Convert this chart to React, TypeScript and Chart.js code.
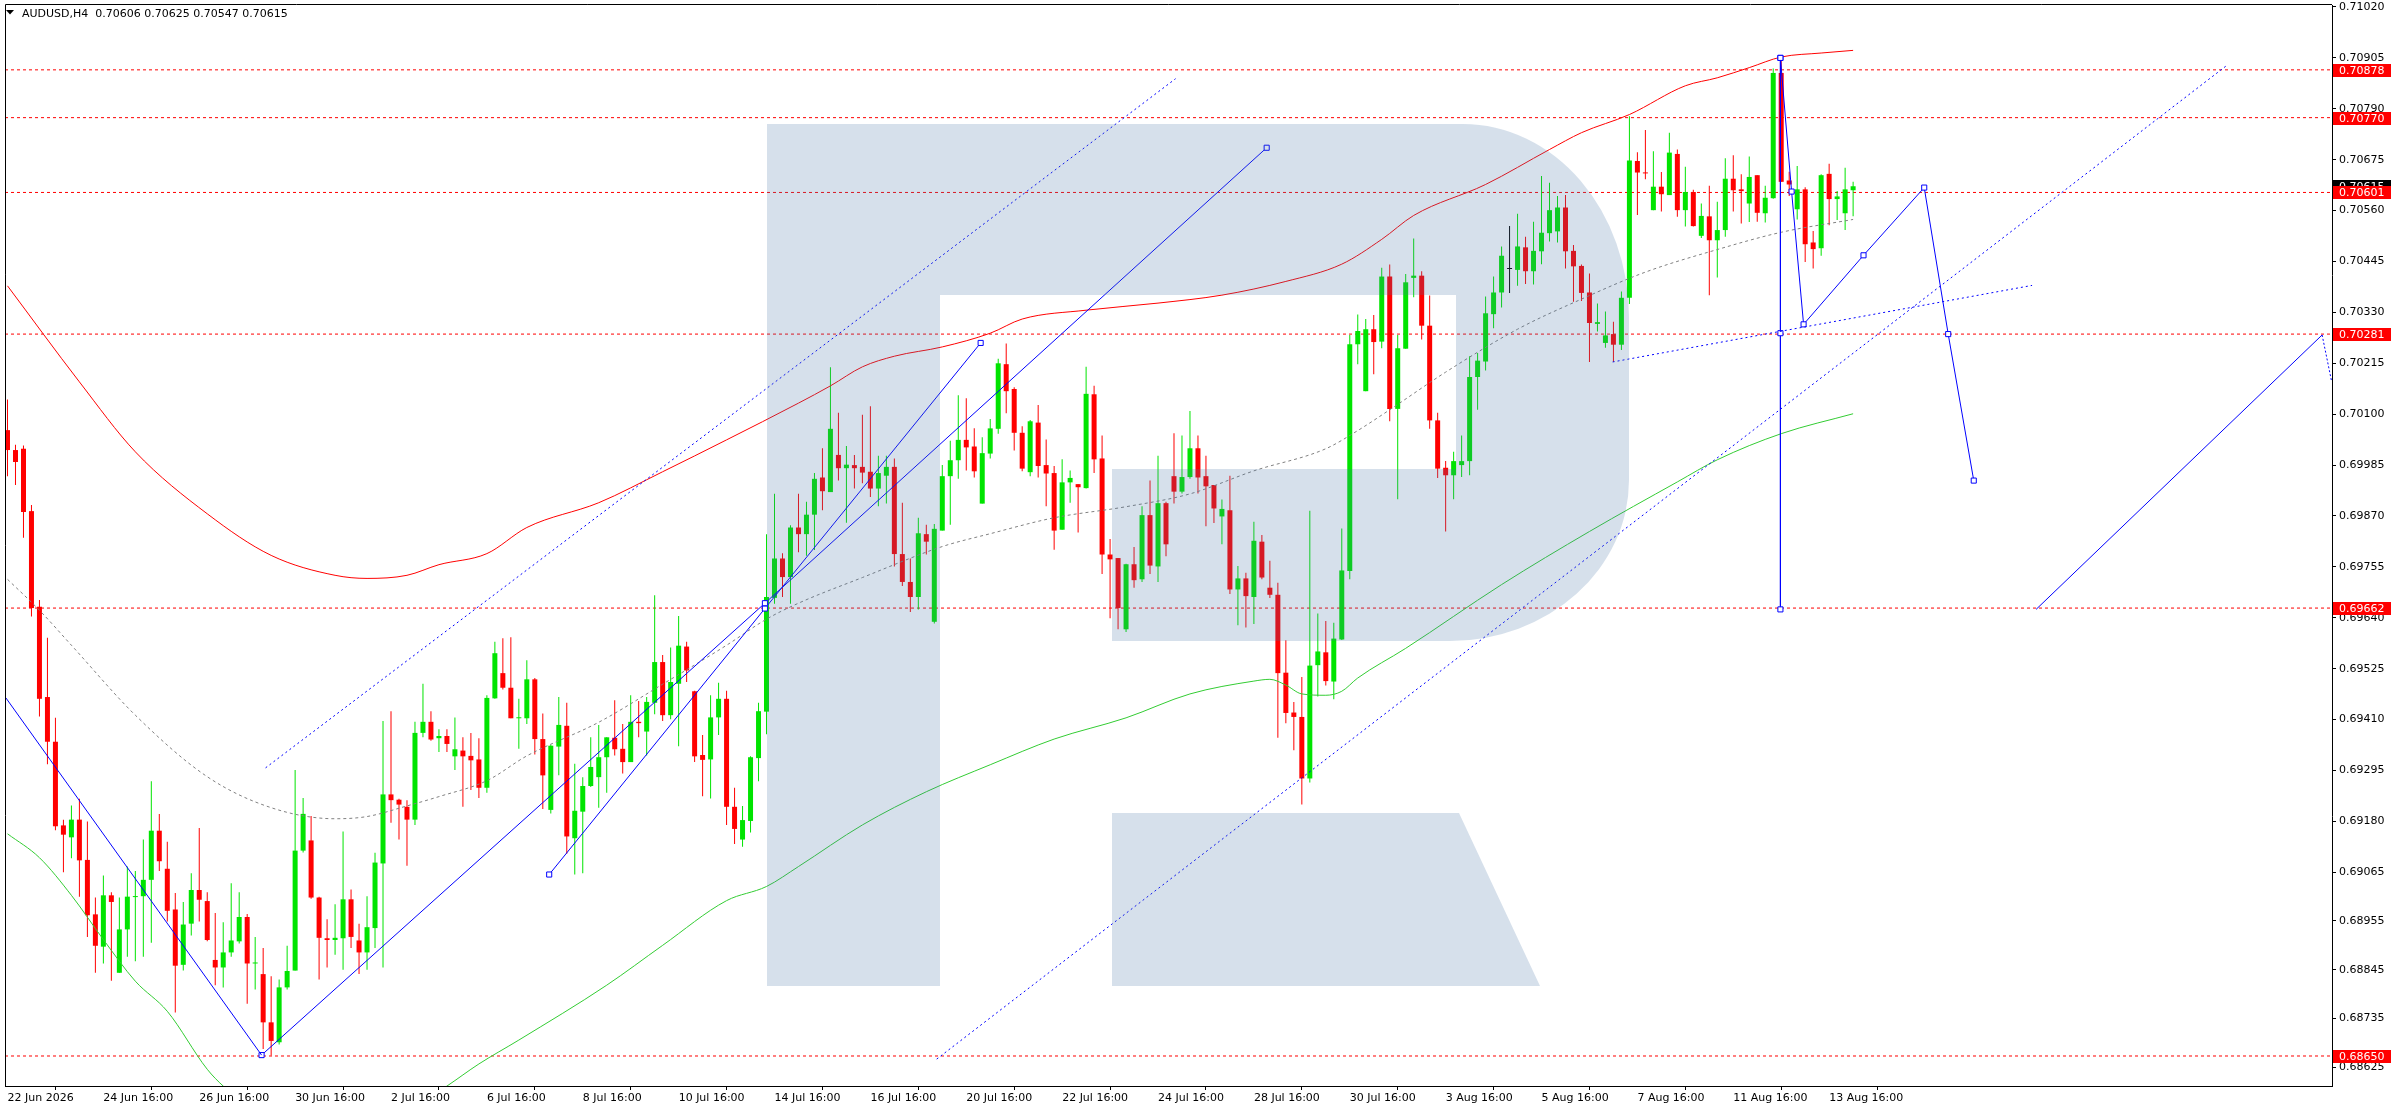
import React, { useEffect, useRef } from 'react';
import { Chart, registerables } from 'chart.js';

Chart.register(...registerables);

// ---------- data ----------
const symbolName = 'AUDUSD,H4';
const dateLabels = ['22 Jun 2026', '24 Jun 16:00', '26 Jun 16:00', '30 Jun 16:00', '2 Jul 16:00', '6 Jul 16:00', '8 Jul 16:00', '10 Jul 16:00', '14 Jul 16:00', '16 Jul 16:00', '20 Jul 16:00', '22 Jul 16:00', '24 Jul 16:00', '28 Jul 16:00', '30 Jul 16:00', '3 Aug 16:00', '5 Aug 16:00', '7 Aug 16:00', '11 Aug 16:00', '13 Aug 16:00'];
const labelEveryBars = 12;

const opens = [
  0.70064, 0.70019, 0.70022, 0.69881, 0.69665, 0.69461, 0.69360, 0.69171, 0.69144, 0.69184,
  0.69093, 0.68970, 0.68897, 0.69013, 0.68838, 0.68936, 0.69009, 0.69011, 0.69048, 0.69159,
  0.69073, 0.68981, 0.68856, 0.68949, 0.69025, 0.69000, 0.68867, 0.68850, 0.68884, 0.68909,
  0.68964, 0.68859, 0.68835, 0.68726, 0.68681, 0.68805, 0.68843, 0.69114, 0.69137, 0.69008,
  0.68916, 0.68912, 0.68916, 0.69004, 0.68911, 0.68884, 0.68939, 0.69085, 0.69241, 0.69229,
  0.69213, 0.69184, 0.69380, 0.69405, 0.69368, 0.69373, 0.69327, 0.69340, 0.69328, 0.69320,
  0.69256, 0.69458, 0.69515, 0.69482, 0.69413, 0.69413, 0.69501, 0.69366, 0.69206, 0.69349,
  0.69396, 0.69142, 0.69202, 0.69260, 0.69280, 0.69325, 0.69369, 0.69344, 0.69314, 0.69405,
  0.69383, 0.69448, 0.69540, 0.69420, 0.69491, 0.69575, 0.69474, 0.69330, 0.69320, 0.69415,
  0.69457, 0.69213, 0.69139, 0.69181, 0.69323, 0.69428, 0.69685, 0.69774, 0.69732, 0.69844,
  0.69829, 0.69873, 0.69957, 0.69924, 0.70008, 0.69978, 0.69985, 0.69981, 0.69970, 0.69932,
  0.69961, 0.69981, 0.69784, 0.69721, 0.69687, 0.69829, 0.69631, 0.69837, 0.69960, 0.69996,
  0.70042, 0.70027, 0.69898, 0.70011, 0.70067, 0.70213, 0.70157, 0.70058, 0.69969, 0.70081,
  0.69985, 0.69967, 0.69839, 0.69946, 0.69942, 0.69933, 0.70145, 0.70000, 0.69783, 0.69775,
  0.69614, 0.69761, 0.69727, 0.69872, 0.69756, 0.69899, 0.69960, 0.69925, 0.69958, 0.70023,
  0.69960, 0.69940, 0.69869, 0.69883, 0.69704, 0.69729, 0.69687, 0.69812, 0.69708, 0.69692,
  0.69516, 0.69426, 0.69416, 0.69277, 0.69533, 0.69562, 0.69496, 0.69591, 0.69746, 0.70258,
  0.70152, 0.70292, 0.70264, 0.70411, 0.70112, 0.70248, 0.70408, 0.70413, 0.70300, 0.70086,
  0.69979, 0.69962, 0.69985, 0.69994, 0.70184, 0.70219, 0.70326, 0.70375, 0.70428, 0.70426,
  0.70477, 0.70423, 0.70468, 0.70509, 0.70513, 0.70567, 0.70469, 0.70435, 0.70375, 0.70304,
  0.70261, 0.70281, 0.70257, 0.70363, 0.70672, 0.70646, 0.70561, 0.70614, 0.70595, 0.70688,
  0.70561, 0.70602, 0.70503, 0.70547, 0.70493, 0.70516, 0.70632, 0.70608, 0.70576, 0.70640,
  0.70554, 0.70588, 0.70871, 0.70628, 0.70563, 0.70608, 0.70488, 0.70475, 0.70643, 0.70586,
  0.70554, 0.70606,
];
const highs = [
  0.70133, 0.70031, 0.70029, 0.69895, 0.69680, 0.69595, 0.69414, 0.69184, 0.69216, 0.69231,
  0.69180, 0.69008, 0.69058, 0.69020, 0.69008, 0.69078, 0.69068, 0.69139, 0.69271, 0.69197,
  0.69134, 0.69018, 0.68998, 0.69063, 0.69165, 0.69020, 0.68973, 0.68952, 0.69040, 0.69020,
  0.68971, 0.68919, 0.68894, 0.68830, 0.68823, 0.68899, 0.69296, 0.69233, 0.69192, 0.69010,
  0.68959, 0.68993, 0.69157, 0.69026, 0.68949, 0.69011, 0.69109, 0.69407, 0.69429, 0.69231,
  0.69228, 0.69405, 0.69491, 0.69429, 0.69388, 0.69388, 0.69415, 0.69370, 0.69380, 0.69368,
  0.69465, 0.69586, 0.69594, 0.69596, 0.69457, 0.69544, 0.69504, 0.69424, 0.69353, 0.69461,
  0.69448, 0.69310, 0.69280, 0.69370, 0.69398, 0.69370, 0.69454, 0.69400, 0.69465, 0.69452,
  0.69461, 0.69691, 0.69556, 0.69573, 0.69644, 0.69586, 0.69475, 0.69375, 0.69465, 0.69493,
  0.69475, 0.69256, 0.69215, 0.69327, 0.69448, 0.69829, 0.69920, 0.69786, 0.69849, 0.69920,
  0.69902, 0.69967, 0.70023, 0.70206, 0.70103, 0.70028, 0.70008, 0.70099, 0.70118, 0.70006,
  0.70006, 0.70000, 0.69900, 0.69774, 0.69866, 0.69850, 0.69852, 0.69985, 0.70040, 0.70143,
  0.70136, 0.70068, 0.70048, 0.70089, 0.70225, 0.70260, 0.70161, 0.70073, 0.70087, 0.70121,
  0.70043, 0.69983, 0.69998, 0.69973, 0.69942, 0.70207, 0.70164, 0.70052, 0.69818, 0.69775,
  0.69762, 0.69800, 0.69892, 0.69950, 0.70006, 0.69902, 0.70057, 0.70052, 0.70107, 0.70052,
  0.70006, 0.69940, 0.69907, 0.69961, 0.69757, 0.69742, 0.69857, 0.69827, 0.69769, 0.69719,
  0.69589, 0.69450, 0.69506, 0.69882, 0.69650, 0.69633, 0.69629, 0.69842, 0.70279, 0.70325,
  0.70315, 0.70324, 0.70431, 0.70438, 0.70279, 0.70417, 0.70497, 0.70423, 0.70368, 0.70103,
  0.69994, 0.70015, 0.70052, 0.70231, 0.70238, 0.70366, 0.70411, 0.70479, 0.70525, 0.70553,
  0.70501, 0.70535, 0.70638, 0.70623, 0.70593, 0.70595, 0.70482, 0.70438, 0.70418, 0.70350,
  0.70332, 0.70309, 0.70377, 0.70773, 0.70692, 0.70742, 0.70694, 0.70647, 0.70736, 0.70698,
  0.70659, 0.70607, 0.70576, 0.70616, 0.70580, 0.70678, 0.70685, 0.70642, 0.70682, 0.70640,
  0.70616, 0.70881, 0.70905, 0.70648, 0.70661, 0.70613, 0.70514, 0.70642, 0.70666, 0.70604,
  0.70657, 0.70625,
];
const lows = [
  0.69960, 0.69940, 0.69821, 0.69643, 0.69417, 0.69309, 0.69160, 0.69065, 0.69097, 0.69010,
  0.68919, 0.68838, 0.68859, 0.68820, 0.68838, 0.68874, 0.68864, 0.68874, 0.68906, 0.69068,
  0.68954, 0.68748, 0.68843, 0.68922, 0.68954, 0.68909, 0.68810, 0.68805, 0.68874, 0.68904,
  0.68768, 0.68800, 0.68666, 0.68651, 0.68676, 0.68800, 0.68843, 0.69110, 0.69005, 0.68823,
  0.68850, 0.68879, 0.68845, 0.68894, 0.68835, 0.68845, 0.68894, 0.68850, 0.69177, 0.69139,
  0.69080, 0.69172, 0.69370, 0.69362, 0.69337, 0.69337, 0.69296, 0.69213, 0.69251, 0.69233,
  0.69245, 0.69457, 0.69478, 0.69413, 0.69344, 0.69400, 0.69331, 0.69208, 0.69198, 0.69284,
  0.69107, 0.69060, 0.69063, 0.69258, 0.69211, 0.69245, 0.69329, 0.69288, 0.69314, 0.69370,
  0.69329, 0.69422, 0.69407, 0.69411, 0.69350, 0.69495, 0.69314, 0.69237, 0.69232, 0.69375,
  0.69172, 0.69129, 0.69123, 0.69155, 0.69271, 0.69377, 0.69672, 0.69687, 0.69672, 0.69788,
  0.69780, 0.69793, 0.69883, 0.69924, 0.69950, 0.69855, 0.69932, 0.69944, 0.69913, 0.69892,
  0.69898, 0.69756, 0.69712, 0.69653, 0.69659, 0.69783, 0.69627, 0.69837, 0.69850, 0.69954,
  0.69973, 0.69957, 0.69898, 0.70000, 0.70056, 0.70102, 0.70018, 0.69971, 0.69960, 0.69957,
  0.69892, 0.69794, 0.69839, 0.69900, 0.69833, 0.69932, 0.69967, 0.69739, 0.69639, 0.69614,
  0.69608, 0.69708, 0.69721, 0.69739, 0.69721, 0.69779, 0.69898, 0.69921, 0.69954, 0.69921,
  0.69847, 0.69854, 0.69806, 0.69694, 0.69623, 0.69618, 0.69626, 0.69727, 0.69685, 0.69369,
  0.69402, 0.69341, 0.69218, 0.69268, 0.69462, 0.69487, 0.69456, 0.69590, 0.69727, 0.70213,
  0.70152, 0.70190, 0.70249, 0.70084, 0.69908, 0.70248, 0.70364, 0.70269, 0.70067, 0.69956,
  0.69835, 0.69908, 0.69958, 0.69962, 0.70110, 0.70199, 0.70294, 0.70341, 0.70374, 0.70390,
  0.70394, 0.70393, 0.70439, 0.70490, 0.70488, 0.70429, 0.70354, 0.70356, 0.70218, 0.70287,
  0.70250, 0.70218, 0.70245, 0.70349, 0.70550, 0.70631, 0.70561, 0.70558, 0.70595, 0.70546,
  0.70524, 0.70524, 0.70498, 0.70369, 0.70409, 0.70501, 0.70558, 0.70531, 0.70534, 0.70535,
  0.70533, 0.70587, 0.70625, 0.70593, 0.70540, 0.70444, 0.70429, 0.70458, 0.70527, 0.70539,
  0.70516, 0.70547,
];
const closes = [
  0.70019, 0.69992, 0.69879, 0.69662, 0.69457, 0.69360, 0.69169, 0.69150, 0.69184, 0.69092,
  0.68968, 0.68899, 0.69013, 0.68998, 0.68936, 0.69010, 0.69011, 0.69048, 0.69159, 0.69090,
  0.68978, 0.68854, 0.68947, 0.69025, 0.69003, 0.68912, 0.68850, 0.68884, 0.68911, 0.68964,
  0.68859, 0.68861, 0.68726, 0.68684, 0.68805, 0.68842, 0.69114, 0.69197, 0.69008, 0.68917,
  0.68912, 0.68917, 0.69004, 0.68919, 0.68884, 0.68941, 0.69087, 0.69241, 0.69228, 0.69218,
  0.69184, 0.69380, 0.69405, 0.69365, 0.69373, 0.69355, 0.69343, 0.69327, 0.69318, 0.69256,
  0.69459, 0.69560, 0.69482, 0.69413, 0.69415, 0.69501, 0.69366, 0.69284, 0.69351, 0.69398,
  0.69146, 0.69204, 0.69260, 0.69303, 0.69325, 0.69370, 0.69343, 0.69314, 0.69405, 0.69402,
  0.69450, 0.69540, 0.69420, 0.69495, 0.69577, 0.69521, 0.69327, 0.69319, 0.69415, 0.69457,
  0.69213, 0.69163, 0.69183, 0.69325, 0.69429, 0.69687, 0.69774, 0.69732, 0.69844, 0.69829,
  0.69873, 0.69954, 0.69926, 0.70067, 0.69978, 0.69986, 0.69978, 0.69968, 0.69932, 0.69967,
  0.69981, 0.69784, 0.69721, 0.69687, 0.69831, 0.69812, 0.69841, 0.69960, 0.69996, 0.70042,
  0.70025, 0.69971, 0.70012, 0.70068, 0.70215, 0.70152, 0.70058, 0.69977, 0.70084, 0.69983,
  0.69966, 0.69837, 0.69946, 0.69956, 0.69935, 0.70146, 0.69998, 0.69783, 0.69772, 0.69662,
  0.69761, 0.69725, 0.69872, 0.69758, 0.69899, 0.69806, 0.69925, 0.69958, 0.70023, 0.69957,
  0.69937, 0.69887, 0.69886, 0.69704, 0.69729, 0.69689, 0.69814, 0.69731, 0.69692, 0.69515,
  0.69425, 0.69416, 0.69277, 0.69532, 0.69564, 0.69497, 0.69593, 0.69747, 0.70258, 0.70288,
  0.70292, 0.70263, 0.70411, 0.70112, 0.70249, 0.70398, 0.70413, 0.70300, 0.70086, 0.69977,
  0.69962, 0.69994, 0.69994, 0.70184, 0.70221, 0.70328, 0.70375, 0.70458, 0.70428, 0.70479,
  0.70423, 0.70469, 0.70510, 0.70561, 0.70567, 0.70468, 0.70434, 0.70374, 0.70306, 0.70308,
  0.70278, 0.70257, 0.70363, 0.70673, 0.70646, 0.70644, 0.70614, 0.70597, 0.70691, 0.70561,
  0.70602, 0.70525, 0.70548, 0.70493, 0.70516, 0.70632, 0.70606, 0.70604, 0.70636, 0.70555,
  0.70589, 0.70871, 0.70625, 0.70619, 0.70608, 0.70484, 0.70473, 0.70640, 0.70586, 0.70592,
  0.70608, 0.70615,
];

const priceTicks = [0.71020, 0.70905, 0.70790, 0.70675, 0.70560, 0.70445, 0.70330, 0.70215, 0.70100, 0.69985, 0.69870, 0.69755, 0.69640, 0.69525, 0.69410, 0.69295, 0.69180, 0.69065, 0.68955, 0.68845, 0.68735, 0.68625];
const levelPrices = [0.70878, 0.70770, 0.70601, 0.70281, 0.69662, 0.68650];

// envelope bands: bar index -> price
const upperBandX = [0, 9, 16, 25, 33, 41, 45, 50, 54, 60, 65, 74, 82, 90, 99, 103, 107, 111, 117, 123, 127, 135, 144, 152, 160, 167, 172, 176, 185, 193, 197, 203, 210, 214, 218, 222, 227, 231];
const upperBandY = [0.70390, 0.70173, 0.70015, 0.69875, 0.69781, 0.69736, 0.69729, 0.69736, 0.69760, 0.69785, 0.69844, 0.69900, 0.69970, 0.70042, 0.70125, 0.70164, 0.70207, 0.70231, 0.70252, 0.70283, 0.70315, 0.70335, 0.70351, 0.70369, 0.70400, 0.70439, 0.70495, 0.70549, 0.70619, 0.70698, 0.70736, 0.70777, 0.70842, 0.70860, 0.70883, 0.70907, 0.70916, 0.70922];
const middleBandX = [0, 4, 8, 16, 25, 33, 41, 45, 50, 54, 60, 65, 74, 82, 90, 95, 99, 107, 117, 123, 131, 140, 148, 156, 165, 169, 173, 180, 189, 197, 205, 214, 222, 231];
const middleBandY = [0.69727, 0.69657, 0.69578, 0.69420, 0.69281, 0.69211, 0.69186, 0.69191, 0.69215, 0.69236, 0.69272, 0.69328, 0.69404, 0.69490, 0.69578, 0.69637, 0.69673, 0.69731, 0.69801, 0.69830, 0.69866, 0.69891, 0.69920, 0.69972, 0.70022, 0.70063, 0.70110, 0.70195, 0.70292, 0.70360, 0.70421, 0.70472, 0.70511, 0.70540];
const lowerBandX = [0, 4, 8, 12, 16, 20, 25, 27, 32, 40, 48, 55, 59, 64, 75, 82, 90, 95, 99, 107, 115, 123, 131, 140, 148, 156, 158, 160, 162, 165, 167, 169, 175, 187, 198, 209, 214, 222, 231];
const lowerBandY = [0.69152, 0.69098, 0.69013, 0.68913, 0.68819, 0.68751, 0.68620, 0.68582, 0.68510, 0.68460, 0.68500, 0.68582, 0.68632, 0.68686, 0.68810, 0.68900, 0.69001, 0.69033, 0.69078, 0.69172, 0.69247, 0.69308, 0.69366, 0.69414, 0.69468, 0.69497, 0.69501, 0.69488, 0.69468, 0.69465, 0.69474, 0.69504, 0.69571, 0.69715, 0.69835, 0.69947, 0.69997, 0.70056, 0.70101];

// drawn objects: [bar index, price]
const downTrend: [number, number][] = [[-0.2, 0.69459], [31.8, 0.68652]];
const upTrendLong: [number, number][] = [[31.8, 0.68652], [94.8, 0.69673], [157.6, 0.70702]];
const upTrendShort: [number, number][] = [[67.8, 0.69060], [94.8, 0.69661], [121.8, 0.70261]];
const channelTop: [number, number][] = [[32.3, 0.69301], [146.2, 0.70858]];
const channelBottom: [number, number][] = [[116.3, 0.68643], [277.7, 0.70887]];
const flatTrend: [number, number][] = [[200.9, 0.70218], [253.4, 0.70391]];
const spikeMarker: [number, number][] = [[221.9, 0.70905], [221.9, 0.70283], [221.9, 0.69659]];
const forecastPath: [number, number][] = [[221.9, 0.70905], [223.3, 0.70603], [224.8, 0.70303], [232.3, 0.70459], [239.9, 0.70612], [242.9, 0.70281], [246.1, 0.69950]];
const rightWave: [number, number][] = [[253.9, 0.69659], [289.7, 0.70279]];
const rightWaveTail: [number, number][] = [[289.7, 0.70279], [290.9, 0.70173]];

// ---------- view settings ----------
const X_MIN = -0.3125;
const X_MAX = 290.9375;
const Y_MIN = 0.685822;
const Y_MAX = 0.710245;
const GREEN = '#00E400';
const RED = '#FF0000';
const BLUE = '#0000FF';
const FONT = 'DejaVu Sans';

const pts = (p: [number, number][]) => p.map(([x, y]) => ({ x, y }));
const zipXY = (xs: number[], ys: number[]) => xs.map((x, k) => ({ x, y: ys[k] }));

const mt4Plugin = {
  id: 'mt4Overlay',
  afterDatasetsDraw(chart: any) {
    const { ctx, chartArea } = chart;
    ctx.save();
    ctx.beginPath();
    ctx.rect(chartArea.left, chartArea.top, chartArea.right - chartArea.left, chartArea.bottom - chartArea.top);
    ctx.clip();
    // watermark logo
    ctx.fillStyle = 'rgba(68,113,163,0.22)';
    ctx.beginPath();
    ctx.rect(767, 124, 173, 862);
    ctx.rect(940, 124, 523, 171);
    ctx.moveTo(1456, 124);
    ctx.lineTo(1463, 124);
    ctx.ellipse(1463, 317, 166, 193, 0, -Math.PI / 2, 0, false);
    ctx.lineTo(1629, 480);
    ctx.ellipse(1450, 480, 179, 161, 0, 0, Math.PI / 2, false);
    ctx.lineTo(1112, 641);
    ctx.lineTo(1112, 469);
    ctx.lineTo(1456, 469);
    ctx.closePath();
    ctx.moveTo(1112, 813);
    ctx.lineTo(1459, 813);
    ctx.lineTo(1540, 986);
    ctx.lineTo(1112, 986);
    ctx.closePath();
    ctx.fill('nonzero');
    ctx.restore();
  },
  afterDraw(chart: any) {
    const { ctx, chartArea } = chart;
    const yScale = chart.scales.y;
    ctx.save();
    // frame
    ctx.strokeStyle = '#000';
    ctx.lineWidth = 1;
    ctx.beginPath();
    ctx.moveTo(chartArea.left + 0.5, chartArea.bottom);
    ctx.lineTo(chartArea.left + 0.5, chartArea.top - 0.5);
    ctx.lineTo(chartArea.right, chartArea.top - 0.5);
    ctx.stroke();

    ctx.font = `11px "${FONT}"`;
    ctx.textBaseline = 'middle';
    ctx.textAlign = 'left';
    const boxX = chartArea.right + 1;
    const boxW = 58;
    // current price (black)
    const last = closes.length - 1;
    const cy = Math.round(yScale.getPixelForValue(closes[last]));
    ctx.fillStyle = '#000';
    ctx.fillRect(boxX, cy - 6, boxW, 13);
    ctx.fillStyle = '#fff';
    ctx.fillText(closes[last].toFixed(5), chartArea.right + 7, cy + 1);
    // level labels (red)
    levelPrices.forEach((v) => {
      const y = Math.round(yScale.getPixelForValue(v));
      ctx.fillStyle = RED;
      ctx.fillRect(boxX, y - 6, boxW, 13);
      ctx.fillStyle = '#fff';
      ctx.fillText(v.toFixed(5), chartArea.right + 7, y + 1);
    });

    // header
    ctx.fillStyle = '#000';
    ctx.beginPath();
    ctx.moveTo(6, 10);
    ctx.lineTo(14, 10);
    ctx.lineTo(10, 14.5);
    ctx.closePath();
    ctx.fill();
    ctx.textBaseline = 'alphabetic';
    const hdr = `${symbolName}  ${opens[last].toFixed(5)} ${highs[last].toFixed(5)} ${lows[last].toFixed(5)} ${closes[last].toFixed(5)}`;
    ctx.fillText(hdr, 22, 17);
    ctx.restore();
  },
};

export default function App() {
  const canvasRef = useRef<HTMLCanvasElement | null>(null);

  useEffect(() => {
    document.body.style.margin = '0';
    document.body.style.overflow = 'hidden';
    const canvas = canvasRef.current;
    if (!canvas) return;

    const idx = opens.map((_, i) => i);
    const colors = idx.map((i) => (closes[i] > opens[i] ? GREEN : closes[i] < opens[i] ? RED : '#000'));

    const levelSets = levelPrices.map((v) => ({
      type: 'line' as const,
      data: [{ x: X_MIN, y: v }, { x: X_MAX, y: v }],
      borderColor: RED,
      borderWidth: 1,
      borderDash: [3, 3],
      pointRadius: 0,
      order: 90,
    }));

    const bandLine = (data: any[], color: string, dash: number[] | undefined, order: number) => ({
      type: 'line' as const,
      data,
      borderColor: color,
      borderWidth: 1,
      borderDash: dash,
      pointRadius: 0,
      cubicInterpolationMode: 'monotone' as const,
      order,
    });

    const blueLine = (data: any[], dash: number[] | undefined, squares: boolean) => ({
      type: 'line' as const,
      data,
      borderColor: BLUE,
      borderWidth: 1,
      borderDash: dash,
      tension: 0,
      pointStyle: 'rect' as const,
      pointRadius: squares ? 3.6 : 0,
      pointBorderColor: BLUE,
      pointBackgroundColor: '#fff',
      pointBorderWidth: 1,
      order: 10,
    });

    const chart = new Chart(canvas, {
      type: 'bar',
      data: {
        datasets: [
          ...levelSets,
          {
            type: 'bar',
            data: idx.map((i) => ({ x: i, y: [lows[i], highs[i]] })) as any,
            backgroundColor: colors,
            barThickness: 1,
            grouped: false,
            inflateAmount: 0,
            borderWidth: 0,
            order: 60,
          } as any,
          {
            type: 'bar',
            data: idx.map((i) => ({ x: i, y: [opens[i], closes[i]] })) as any,
            backgroundColor: colors,
            barThickness: 5,
            minBarLength: 1,
            grouped: false,
            inflateAmount: 0,
            borderWidth: 0,
            order: 59,
          } as any,
          bandLine(zipXY(upperBandX, upperBandY), RED, undefined, 40),
          bandLine(zipXY(middleBandX, middleBandY), '#808080', [3, 3], 40),
          bandLine(zipXY(lowerBandX, lowerBandY), '#33CC33', undefined, 40),
          blueLine(pts(downTrend), undefined, false),
          blueLine(pts(upTrendLong), undefined, true),
          blueLine(pts(upTrendShort), undefined, true),
          blueLine(pts(channelTop), [2, 3], false),
          blueLine(pts(channelBottom), [2, 3], false),
          blueLine(pts(flatTrend), [2, 3], false),
          blueLine(pts(spikeMarker), undefined, true),
          blueLine(pts(forecastPath), undefined, true),
          blueLine(pts(rightWave), undefined, false),
          blueLine(pts(rightWaveTail), [2, 2], false),
        ] as any,
      },
      options: {
        responsive: false,
        animation: false,
        events: [],
        layout: { padding: { left: 2, top: 2, right: 0, bottom: 0 } },
        plugins: { legend: { display: false }, tooltip: { enabled: false }, title: { display: false } },
        scales: {
          x: {
            type: 'linear',
            min: X_MIN,
            max: X_MAX,
            offset: false,
            afterBuildTicks: (s: any) => {
              s.ticks = dateLabels.map((_, k) => ({ value: k * labelEveryBars }));
            },
            afterFit: (s: any) => {
              s.height = 24;
              s.paddingLeft = 0;
              s.paddingRight = 0;
            },
            ticks: {
              callback: (_v: any, k: number) => dateLabels[k],
              align: 'start',
              maxRotation: 0,
              minRotation: 0,
              autoSkip: false,
              padding: 2,
              color: '#000',
              font: { family: FONT, size: 11 },
            },
            grid: { drawOnChartArea: false, drawTicks: true, tickLength: 4, color: '#000' },
            border: { display: true, color: '#000' },
          },
          y: {
            type: 'linear',
            position: 'right',
            min: Y_MIN,
            max: Y_MAX,
            afterBuildTicks: (s: any) => {
              s.ticks = priceTicks.map((v) => ({ value: v }));
            },
            afterFit: (s: any) => {
              s.width = 64;
              s.paddingTop = 0;
              s.paddingBottom = 0;
            },
            ticks: {
              callback: (v: any) => Number(v).toFixed(5),
              autoSkip: false,
              padding: 3,
              color: '#000',
              font: { family: FONT, size: 11 },
            },
            grid: { drawOnChartArea: false, drawTicks: true, tickLength: 4, color: '#000' },
            border: { display: true, color: '#000' },
          },
        },
      } as any,
      plugins: [mt4Plugin],
    });

    return () => chart.destroy();
  }, []);

  return (
    <div style={{ width: 2396, height: 1110, background: '#fff' }}>
      <canvas ref={canvasRef} width={2396} height={1110} style={{ width: 2396, height: 1110, display: 'block' }} />
    </div>
  );
}
